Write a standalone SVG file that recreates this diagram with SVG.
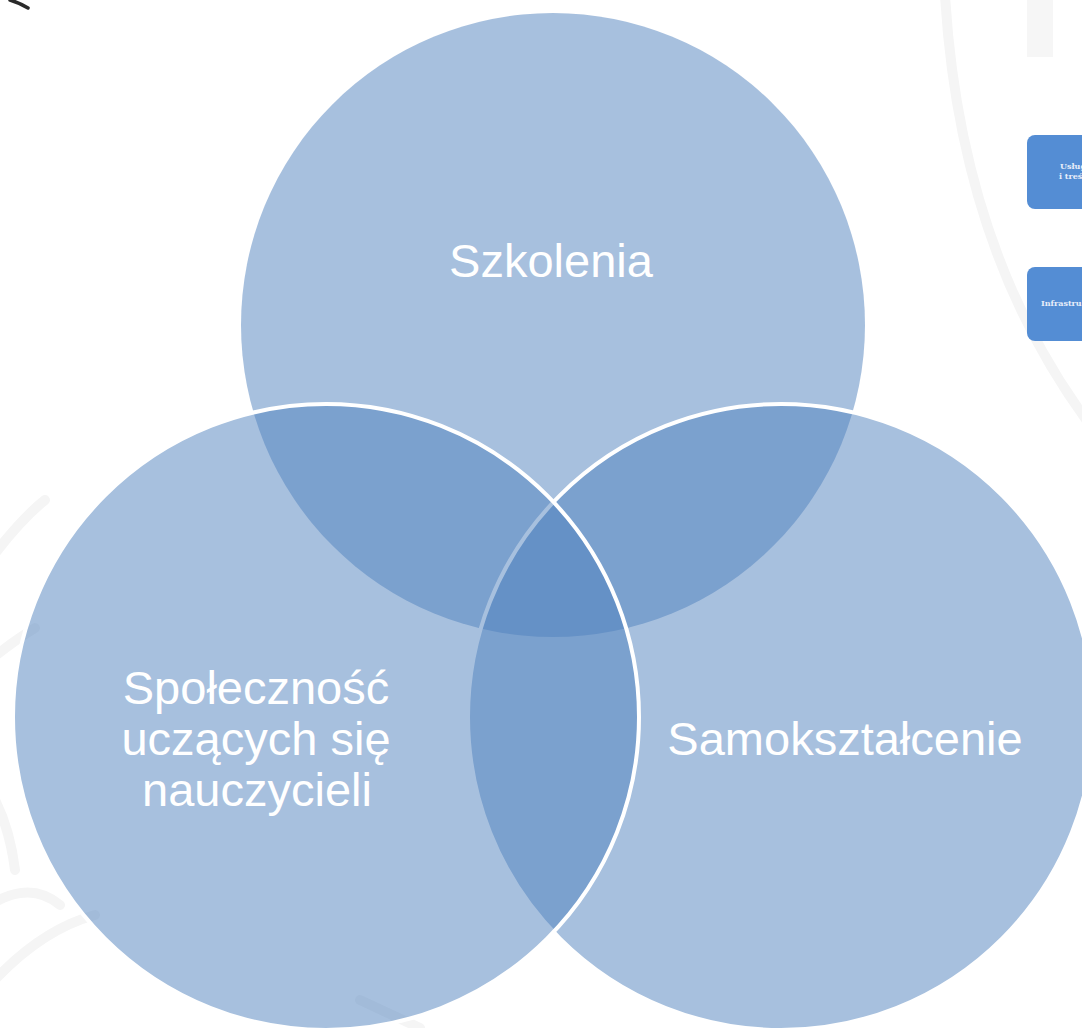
<svg xmlns="http://www.w3.org/2000/svg" width="1082" height="1028" viewBox="0 0 1082 1028">
  <style>
    .circle { fill: #4F81BD; fill-opacity: 0.5; }
    .outlined { stroke: #ffffff; stroke-width: 4; }
    .label { font-family: "Liberation Sans", Arial, sans-serif; font-size: 47px; fill: #ffffff; text-anchor: middle; }
    .box { fill: #548DD4; }
    .boxtext { font-family: "DejaVu Serif", "Liberation Serif", serif; font-size: 8px; font-weight: bold; fill: #e8eefa; }
    .wm { fill: none; stroke: #f5f5f5; stroke-width: 10; stroke-linecap: round; }
  </style>
  <rect x="0" y="0" width="1082" height="1028" fill="#ffffff"/>

  <g id="background">
    <path class="wm" d="M 945 -5 Q 960 250 1090 425"/>
    <rect x="1027" y="0" width="26" height="57" fill="#f6f6f6"/>
    <path class="wm" d="M -10 560 Q 20 520 45 500"/>
    <path class="wm" d="M -10 660 Q 15 640 35 628"/>
    <path class="wm" d="M -5 800 Q 10 830 15 870"/>
    <path class="wm" d="M -10 905 Q 30 880 60 905"/>
    <path class="wm" d="M -10 985 Q 40 930 95 915"/>
    <path class="wm" d="M 360 1000 L 420 1028"/>
    <path d="M 10 0 Q 20 3 28 8" fill="none" stroke="#2a2a2a" stroke-width="3.5" stroke-linecap="round"/>
  </g>

  <g id="connectors"></g>

  <g id="node-szkolenia">
    <circle class="circle" cx="553" cy="325" r="312"/>
    <text class="label" x="551" y="277">Szkolenia</text>
  </g>

  <g id="node-samoksztalcenie">
    <circle class="circle outlined" cx="781" cy="717" r="313"/>
    <text class="label" x="845" y="755">Samokształcenie</text>
  </g>

  <g id="node-spolecznosc">
    <circle class="circle outlined" cx="326" cy="717" r="313"/>
    <text class="label" x="256" y="704">Społeczność</text>
    <text class="label" x="256" y="755">uczących się</text>
    <text class="label" x="257" y="806">nauczycieli</text>
  </g>

  <g id="node-uslugi">
    <rect class="box" x="1027" y="135" width="110" height="74" rx="8" ry="8"/>
    <text class="boxtext" x="1060" y="169">Usługi</text>
    <text class="boxtext" x="1059" y="179">i treści</text>
  </g>

  <g id="node-infrastruktura">
    <rect class="box" x="1027" y="267" width="110" height="74" rx="8" ry="8"/>
    <text class="boxtext" x="1041" y="306">Infrastruktura</text>
  </g>
</svg>
